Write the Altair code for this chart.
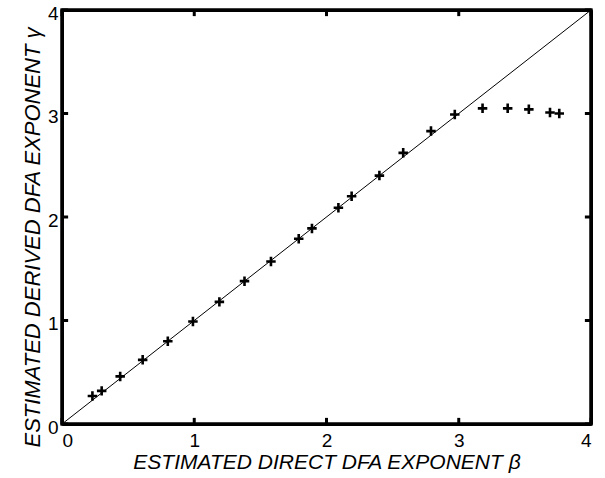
import altair as alt
import pandas as pd

beta = [0.23, 0.30, 0.44, 0.61, 0.80, 0.99, 1.19, 1.38, 1.58, 1.79, 1.89,
        2.09, 2.19, 2.40, 2.58, 2.79, 2.97, 3.18, 3.37, 3.53, 3.69, 3.76]
gamma = [0.27, 0.32, 0.46, 0.62, 0.80, 0.99, 1.18, 1.38, 1.57, 1.79, 1.89,
         2.09, 2.20, 2.40, 2.62, 2.83, 2.99, 3.05, 3.05, 3.04, 3.01, 3.00]
diag = [0, 4]
ticks = [0, 1, 2, 3, 4]
frame_x = [0, 4, 4, 0, 0]
frame_y = [0, 0, 4, 4, 0]

W, H = 529, 414
FONT = "Liberation Sans"
INK = "black"

pts = pd.DataFrame({"beta": beta, "gamma": gamma})
ddf = pd.DataFrame({"beta": diag, "gamma": diag})
fdf = pd.DataFrame({"beta": frame_x, "gamma": frame_y, "k": list(range(len(frame_x)))})
lo, hi = 0, 4
bt = pd.DataFrame({"beta": ticks, "gamma": [lo] * len(ticks)})
tt = pd.DataFrame({"beta": ticks, "gamma": [hi] * len(ticks)})
lt = pd.DataFrame({"beta": [lo] * len(ticks), "gamma": ticks})
rt = pd.DataFrame({"beta": [hi] * len(ticks), "gamma": ticks})

xs = alt.Scale(domain=[0, 4], nice=False, zero=False)
ys = alt.Scale(domain=[0, 4], nice=False, zero=False)

xaxis = alt.Axis(values=ticks, format="d", ticks=False, grid=False,
                 domain=True, domainColor=INK, domainWidth=3,
                 labelFont=FONT, labelFontSize=19, labelColor="black", labelPadding=7,
                 title="ESTIMATED DIRECT DFA EXPONENT  \u03b2", titleFont=FONT,
                 titleFontSize=21, titleFontStyle="italic", titleFontWeight="normal",
                 titleColor="black", titlePadding=1)
yaxis = alt.Axis(values=ticks, format="d", ticks=False, grid=False,
                 domain=True, domainColor=INK, domainWidth=3,
                 labelFont=FONT, labelFontSize=19, labelColor="black", labelPadding=4,
                 labelOffset=3,
                 title="ESTIMATED DERIVED DFA EXPONENT    \u03b3", titleFont=FONT,
                 titleFontSize=22, titleFontStyle="italic", titleFontWeight="normal",
                 titleColor="black", titlePadding=3, titleY=H / 2 + 20)
xaxis_top = alt.Axis(orient="top", values=ticks, ticks=False, grid=False, labels=False,
                     title=None, domain=True, domainColor=INK, domainWidth=3)
yaxis_right = alt.Axis(orient="right", values=ticks, ticks=False, grid=False, labels=False,
                       title=None, domain=True, domainColor=INK, domainWidth=3)

X = alt.X("beta:Q", scale=xs, axis=xaxis)
Y = alt.Y("gamma:Q", scale=ys, axis=yaxis)
Xp = alt.X("beta:Q", scale=xs, axis=None)
Yp = alt.Y("gamma:Q", scale=ys, axis=None)

line = alt.Chart(ddf).mark_line(color="black", strokeWidth=1).encode(x=X, y=Y)

frame = alt.Chart(fdf).mark_line(color=INK, strokeWidth=3, strokeCap="square").encode(
    x=alt.X("beta:Q", scale=xs, axis=xaxis_top),
    y=alt.Y("gamma:Q", scale=ys, axis=yaxis_right),
    order="k:O")

points = alt.Chart(pts).mark_point(
    shape="M-1,0L1,0M0,-1L0,1", size=90, filled=False, color="black", strokeWidth=2.6, opacity=1
).encode(x=Xp, y=Yp)


def tick_layer(df, path):
    return alt.Chart(df).mark_point(shape=path, size=150, filled=False, color=INK,
                                    strokeWidth=3, opacity=1).encode(x=Xp, y=Yp)


bottom_ticks = tick_layer(bt, "M0,0L0,-1")
top_ticks = tick_layer(tt, "M0,0L0,1")
left_ticks = tick_layer(lt, "M0,0L1,0")
right_ticks = tick_layer(rt, "M0,0L-1,0")

chart = alt.layer(line, frame, points, bottom_ticks, top_ticks, left_ticks, right_ticks).resolve_axis(
    x="independent", y="independent"
).properties(
    width=W, height=H,
    autosize=alt.AutoSizeParams(type="none"),
    padding={"left": 62, "top": 10, "right": 14, "bottom": 54},
    background="white",
).configure_view(stroke=INK, strokeWidth=3)

chart.save("out.html", embed_options={"renderer": "svg", "actions": False})
